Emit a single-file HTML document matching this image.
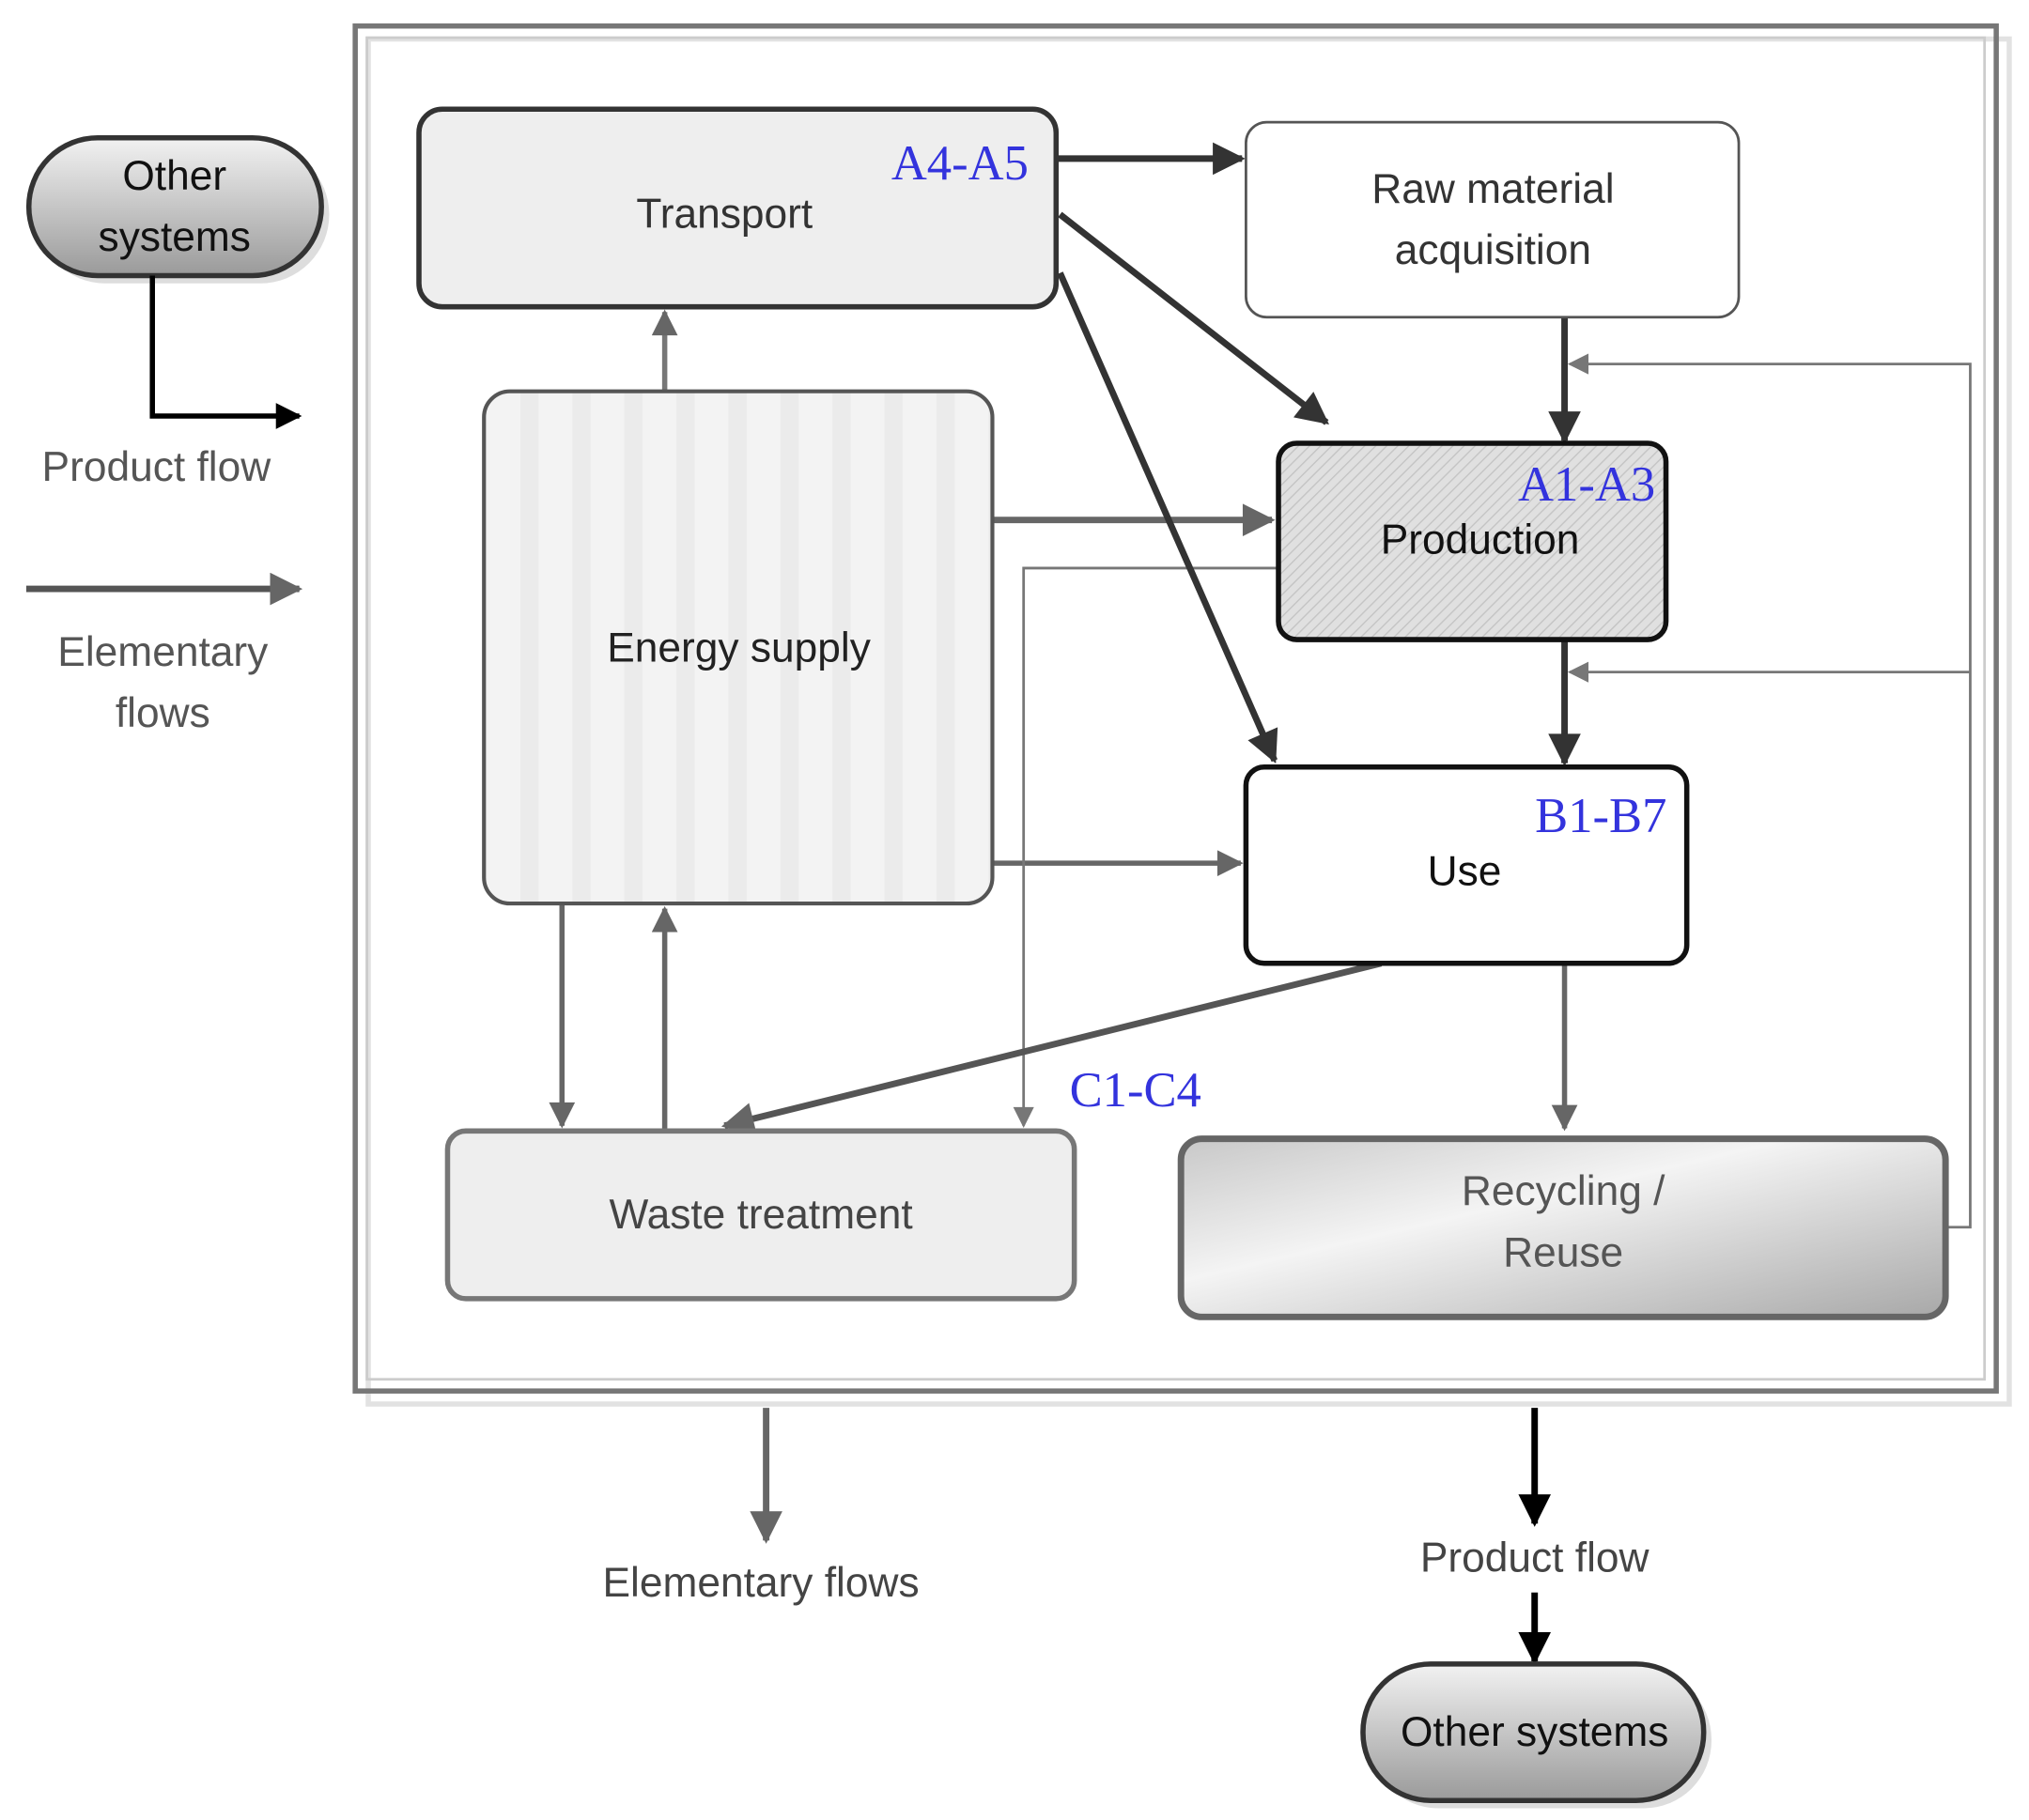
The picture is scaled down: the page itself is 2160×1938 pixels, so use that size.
<!DOCTYPE html>
<html><head><meta charset="utf-8"><style>html,body{margin:0;padding:0;background:#fff}svg{display:block}</style></head><body>
<svg width="2160" height="1938" viewBox="0 0 1560 1400" xmlns="http://www.w3.org/2000/svg" font-family="Liberation Sans, sans-serif">
<defs>
<marker id="ad" viewBox="0 0 10 10" refX="9" refY="5" markerWidth="6" markerHeight="5" orient="auto"><path d="M0,0L10,5L0,10z" fill="#333"/></marker>
<marker id="ak" viewBox="0 0 10 10" refX="9" refY="5" markerWidth="6" markerHeight="5" orient="auto"><path d="M0,0L10,5L0,10z" fill="#000"/></marker>
<marker id="ag" viewBox="0 0 10 10" refX="9" refY="5" markerWidth="6" markerHeight="5" orient="auto"><path d="M0,0L10,5L0,10z" fill="#666"/></marker>
<marker id="at" viewBox="0 0 10 10" refX="9" refY="5" markerWidth="10" markerHeight="8" orient="auto"><path d="M0,0L10,5L0,10z" fill="#777"/></marker>
<linearGradient id="pill" x1="0" y1="0" x2="0" y2="1"><stop offset="0" stop-color="#f2f2f2"/><stop offset="1" stop-color="#9a9a9a"/></linearGradient>
<linearGradient id="rec" x1="0" y1="0" x2="1" y2="1"><stop offset="0" stop-color="#c8c8c8"/><stop offset="0.4" stop-color="#f4f4f4"/><stop offset="1" stop-color="#a8a8a8"/></linearGradient>
<pattern id="hatch" width="6" height="6" patternUnits="userSpaceOnUse" patternTransform="rotate(45)"><rect width="6" height="6" fill="#e0e0e0"/><line x1="0" y1="0" x2="0" y2="6" stroke="#c4c4c4" stroke-width="2"/></pattern>
<pattern id="vstripe" width="40" height="10" patternUnits="userSpaceOnUse"><rect width="40" height="10" fill="#f3f3f3"/><rect width="14" height="10" fill="#ebebeb"/></pattern>
</defs>
<rect x="283" y="30" width="1262" height="1050" fill="none" stroke="#e2e2e2" stroke-width="4"/>
<rect x="273" y="20" width="1262" height="1050" fill="none" stroke="#777" stroke-width="4"/>
<rect x="282" y="29" width="1244" height="1032" fill="none" stroke="#ccc" stroke-width="2"/>
<rect x="28" y="112" width="225" height="106" rx="53" fill="#ddd"/>
<rect x="22" y="106" width="225" height="106" rx="53" fill="url(#pill)" stroke="#333" stroke-width="4"/>
<text x="134" y="146" font-size="32" text-anchor="middle" fill="#111">Other</text>
<text x="134" y="193" font-size="32" text-anchor="middle" fill="#111">systems</text>
<path d="M117,212V320H230" fill="none" stroke="#000" stroke-width="4" marker-end="url(#ak)"/>
<text x="120" y="370" font-size="32" text-anchor="middle" fill="#555">Product flow</text>
<line x1="20" y1="453" x2="230" y2="453" stroke="#555" stroke-width="5" marker-end="url(#ag)"/>
<text x="125" y="512" font-size="32" text-anchor="middle" fill="#555">Elementary</text>
<text x="125" y="559" font-size="32" text-anchor="middle" fill="#555">flows</text>
<line x1="511" y1="301" x2="511" y2="240" stroke="#777" stroke-width="4" marker-end="url(#ag)"/>
<line x1="763" y1="400" x2="978" y2="400" stroke="#666" stroke-width="5" marker-end="url(#ag)"/>
<line x1="763" y1="664" x2="954" y2="664" stroke="#666" stroke-width="4" marker-end="url(#ag)"/>
<path d="M983,437H787V866" fill="none" stroke="#777" stroke-width="2" marker-end="url(#at)"/>
<line x1="1062" y1="741" x2="557" y2="866" stroke="#555" stroke-width="5" marker-end="url(#ag)"/>
<line x1="1203" y1="741" x2="1203" y2="868" stroke="#666" stroke-width="4" marker-end="url(#ag)"/>
<line x1="432" y1="695" x2="432" y2="866" stroke="#666" stroke-width="4" marker-end="url(#ag)"/>
<line x1="511" y1="868" x2="511" y2="699" stroke="#666" stroke-width="4" marker-end="url(#ag)"/>
<path d="M1496,944H1515V280H1207" fill="none" stroke="#777" stroke-width="2" marker-end="url(#at)"/>
<path d="M1515,517H1207" fill="none" stroke="#777" stroke-width="2" marker-end="url(#at)"/>
<line x1="812" y1="122" x2="955" y2="122" stroke="#333" stroke-width="5" marker-end="url(#ad)"/>
<line x1="815" y1="165" x2="1020" y2="325" stroke="#333" stroke-width="5" marker-end="url(#ad)"/>
<line x1="815" y1="210" x2="980" y2="585" stroke="#333" stroke-width="5" marker-end="url(#ad)"/>
<line x1="1203" y1="244" x2="1203" y2="339" stroke="#333" stroke-width="5" marker-end="url(#ad)"/>
<line x1="1203" y1="492" x2="1203" y2="587" stroke="#333" stroke-width="5" marker-end="url(#ad)"/>
<rect x="322" y="84" width="490" height="152" rx="18" fill="#eee" stroke="#333" stroke-width="4"/>
<text x="557" y="175" font-size="32" text-anchor="middle" fill="#333">Transport</text>
<text x="738" y="138" font-size="38" text-anchor="middle" fill="#3333dd" font-family="Liberation Serif, serif">A4-A5</text>
<rect x="958" y="94" width="379" height="150" rx="16" fill="#fff" stroke="#555" stroke-width="2"/>
<text x="1148" y="156" font-size="32" text-anchor="middle" fill="#333">Raw material</text>
<text x="1148" y="203" font-size="32" text-anchor="middle" fill="#333">acquisition</text>
<rect x="983" y="341" width="298" height="151" rx="14" fill="url(#hatch)" stroke="#111" stroke-width="4"/>
<text x="1220" y="385" font-size="38" text-anchor="middle" fill="#3333dd" font-family="Liberation Serif, serif">A1-A3</text>
<text x="1138" y="426" font-size="32" text-anchor="middle" fill="#111">Production</text>
<rect x="958" y="590" width="339" height="151" rx="14" fill="#fff" stroke="#111" stroke-width="4"/>
<text x="1231" y="640" font-size="38" text-anchor="middle" fill="#3333dd" font-family="Liberation Serif, serif">B1-B7</text>
<text x="1126" y="681" font-size="32" text-anchor="middle" fill="#111">Use</text>
<rect x="372" y="301" width="391" height="394" rx="20" fill="url(#vstripe)" stroke="#555" stroke-width="3"/>
<text x="568" y="509" font-size="32" text-anchor="middle" fill="#222">Energy supply</text>
<rect x="344" y="870" width="482" height="129" rx="14" fill="#eee" stroke="#777" stroke-width="4"/>
<text x="585" y="945" font-size="32" text-anchor="middle" fill="#444">Waste treatment</text>
<rect x="908" y="876" width="588" height="137" rx="16" fill="url(#rec)" stroke="#666" stroke-width="5"/>
<text x="1202" y="927" font-size="32" text-anchor="middle" fill="#555">Recycling /</text>
<text x="1202" y="974" font-size="32" text-anchor="middle" fill="#555">Reuse</text>
<text x="873" y="851" font-size="38" text-anchor="middle" fill="#3333dd" font-family="Liberation Serif, serif">C1-C4</text>
<line x1="589" y1="1083" x2="589" y2="1185" stroke="#666" stroke-width="5" marker-end="url(#ag)"/>
<text x="585" y="1228" font-size="32" text-anchor="middle" fill="#444">Elementary flows</text>
<line x1="1180" y1="1083" x2="1180" y2="1172" stroke="#000" stroke-width="5" marker-end="url(#ak)"/>
<text x="1180" y="1209" font-size="32" text-anchor="middle" fill="#444">Product flow</text>
<line x1="1180" y1="1225" x2="1180" y2="1278" stroke="#000" stroke-width="5" marker-end="url(#ak)"/>
<rect x="1054" y="1286" width="262" height="105" rx="52" fill="#ddd"/>
<rect x="1048" y="1280" width="262" height="105" rx="52" fill="url(#pill)" stroke="#333" stroke-width="4"/>
<text x="1180" y="1343" font-size="32" text-anchor="middle" fill="#111">Other systems</text>
</svg>
</body></html>
